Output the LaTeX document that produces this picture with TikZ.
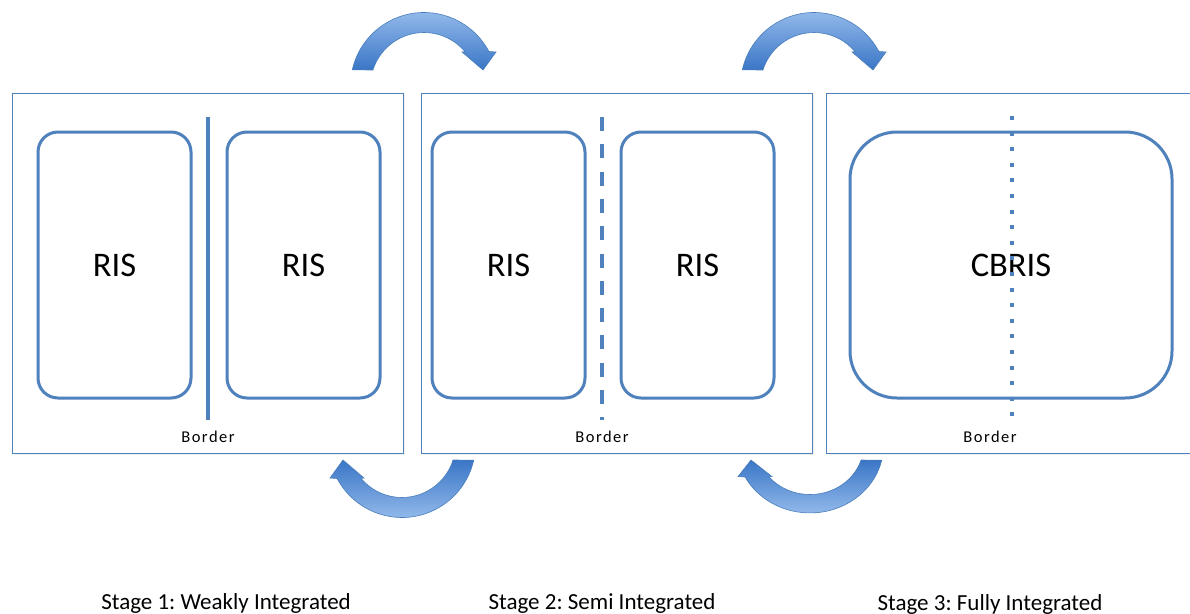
\documentclass[tikz,border=0pt]{standalone}
\usepackage{fontspec}
\setmainfont{Carlito}
\newfontfamily\borderfont[LetterSpace=9]{Carlito}
\frenchspacing
\usetikzlibrary{positioning, shadows}
\definecolor{risblue}{HTML}{4F81BD}
\definecolor{arrowlight}{HTML}{9CC0EE}
\definecolor{arrowdark}{HTML}{3A76C6}
\definecolor{arrowline}{HTML}{4A7EBB}
\tikzset{
  panel/.style={draw=risblue, line width=0.9pt, minimum width=391pt, minimum height=360pt, drop shadow={opacity=0.12, shadow xshift=1.5pt, shadow yshift=-1.5pt}},
  risbox/.style={draw=risblue, line width=3pt, rounded corners=20pt, minimum width=153pt, minimum height=266pt, font=\fontsize{34.5}{38}\selectfont},
  bordertext/.style={font=\borderfont\fontsize{16.5}{19}\selectfont, anchor=base},
  stagetext/.style={font=\fontsize{23}{27}\selectfont, anchor=base},
  divider/.style={risblue, line width=4pt},
  upfill/.style={top color=arrowlight, bottom color=arrowdark},
  downfill/.style={top color=arrowdark, bottom color=arrowlight},
  pics/turnarrow/.style={code={
    \draw[arrowline, line width=0.6pt, #1] (192.7:73.5) arc[start angle=192.7, end angle=332, radius=73.5]
      -- (72,-34) -- (59,-16) -- (38,-34) -- (320.5:53.5)
      arc[start angle=320.5, end angle=197.4, radius=53.5] -- cycle;
  }}
}

\begin{document}
\begin{tikzpicture}[x=1pt, y=-1pt]
  \clip (0,0) rectangle (1190,613);

  \node[panel, fill=white] (stage1) at (207.5,273) {};
  \node[panel, fill=white] (stage2) at (616.5,273) {};
  \node[panel, fill=white] (stage3) at (1021.5,273) {};

  \node[risbox] (ris1a) at (114.5,265) {RIS};
  \node[risbox] (ris1b) at (303.5,265) {RIS};
  \node[risbox] (ris2a) at (508.5,265) {RIS};
  \node[risbox] (ris2b) at (697.5,265) {RIS};
  \node[risbox, minimum width=322pt, rounded corners=47pt] (cbris) at (1011,265) {CBRIS};

  \coordinate (border1top) at (208,117);
  \coordinate (border1bot) at (208,420);
  \coordinate (border2top) at (602,117);
  \coordinate (border2bot) at (602,420);
  \coordinate (border3top) at (1012,116);
  \coordinate (border3bot) at (1012,422);
  \draw[divider] (border1top) -- (border1bot);
  \draw[divider, dash pattern=on 14pt off 13.3pt] (border2top) -- (border2bot);
  \draw[divider, dash pattern=on 4pt off 11.6pt] (border3top) -- (border3bot);

  \node[bordertext] (border1) at (208,442) {Border};
  \node[bordertext] (border2) at (602,442) {Border};
  \node[bordertext] (border3) at (990,442) {Border};

  \pic at (424,86) {turnarrow=upfill};
  \pic at (814,86) {turnarrow=upfill};
  \pic[rotate=180] at (402,444) {turnarrow=downfill};
  \pic[rotate=180, yscale=0.92] at (810,445.3) {turnarrow=downfill};

  \node[stagetext] (label1) at (226,609) {Stage 1: Weakly Integrated};
  \node[stagetext] (label2) at (602,609) {Stage 2: Semi Integrated};
  \node[stagetext] (label3) at (990,610.5) {Stage 3: Fully Integrated};
\end{tikzpicture}
\end{document}
